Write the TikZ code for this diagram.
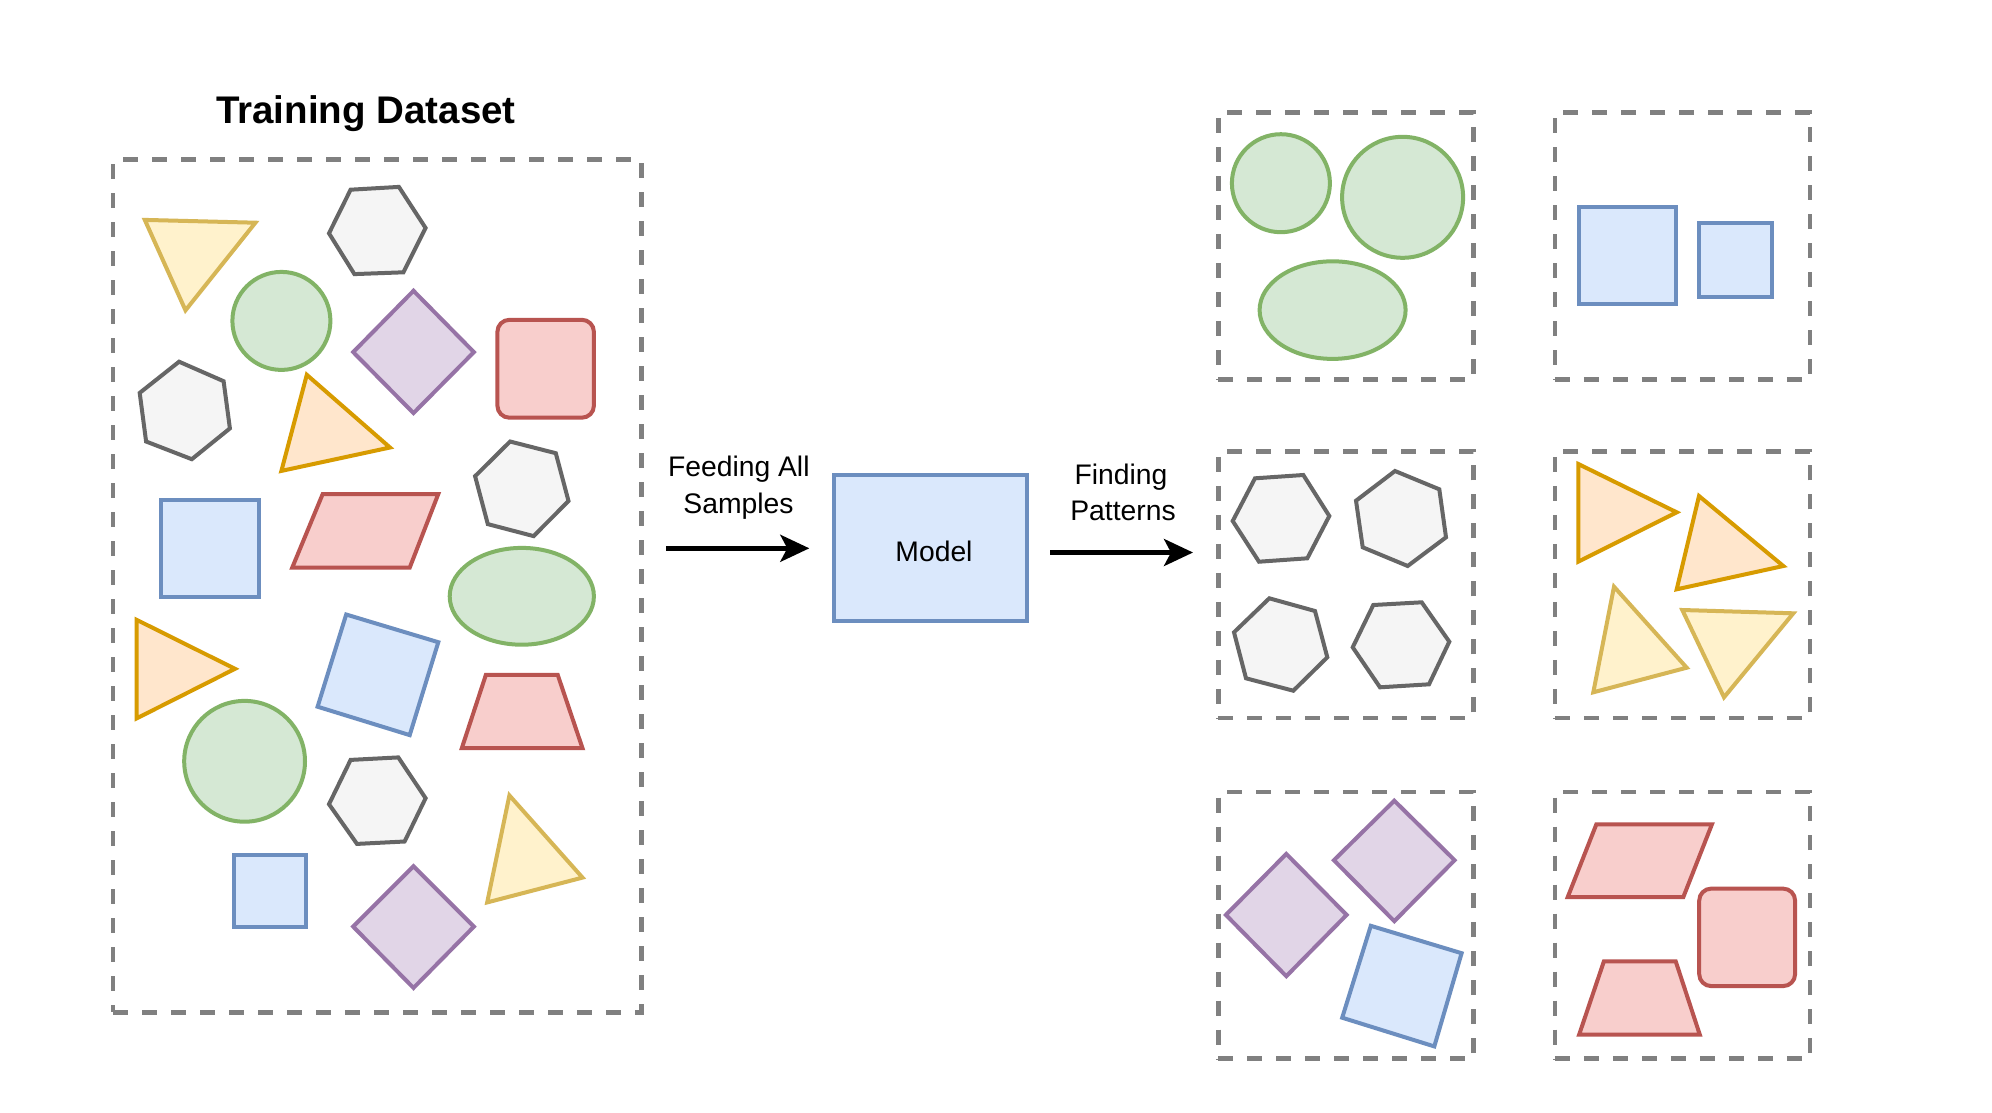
\documentclass[tikz,border=0pt]{standalone}
\usepackage{fontspec}
\setmainfont{Liberation Sans}
\usetikzlibrary{arrows.meta}
\definecolor{yelF}{HTML}{FFF2CC}\definecolor{yelD}{HTML}{D6B656}
\definecolor{orgF}{HTML}{FFE6CC}\definecolor{orgD}{HTML}{D79B00}
\definecolor{grnF}{HTML}{D5E8D4}\definecolor{grnD}{HTML}{82B366}
\definecolor{gryF}{HTML}{F5F5F5}\definecolor{gryD}{HTML}{666666}
\definecolor{purF}{HTML}{E1D5E7}\definecolor{purD}{HTML}{9673A6}
\definecolor{redF}{HTML}{F8CECC}\definecolor{redD}{HTML}{B85450}
\definecolor{bluF}{HTML}{DAE8FC}\definecolor{bluD}{HTML}{6C8EBF}
\definecolor{dashgray}{HTML}{808080}
\tikzset{
  shp/.style={line width=4pt},
  yel/.style={shp, fill=yelF, draw=yelD},
  org/.style={shp, fill=orgF, draw=orgD},
  grn/.style={shp, fill=grnF, draw=grnD},
  gry/.style={shp, fill=gryF, draw=gryD},
  pur/.style={shp, fill=purF, draw=purD},
  red/.style={shp, fill=redF, draw=redD},
  blu/.style={shp, fill=bluF, draw=bluD},
  redround/.style={red, rounded corners=12pt},
  dbox/.style={draw=dashgray, line width=4.5pt, dash pattern=on 15pt off 14pt,
    inner sep=0pt, outer sep=0pt},
  gbox/.style={dbox, minimum width=255.3pt, minimum height=266.8pt},
  lbl/.style={font=\fontsize{28.3}{34}\selectfont, inner sep=0pt},
  ttl/.style={font=\bfseries\fontsize{38.5}{46}\selectfont, inner sep=0pt},
  flow/.style={line width=4.5pt, -{Stealth[length=29pt,width=27pt,inset=7pt]}},
  modelbox/.style={draw=bluD, fill=bluF, line width=4pt, minimum width=193pt,
    minimum height=145.7pt, inner sep=0pt},
}
\begin{document}
\begin{tikzpicture}[x=1pt,y=-1pt]
\useasboundingbox[fill=white] (0,0) rectangle (1992,1112);

% ---------- Training dataset ----------
\node[ttl, anchor=base] (title) at (365.9,123.3) {Training Dataset};
\node[dbox, minimum width=528.4pt, minimum height=852.8pt] (dataset) at (377.3,586) {};

\filldraw[yel] (144.8,219.9) -- (255.4,222.7) -- (185.5,310.3) -- cycle;
\filldraw[gry] (350.6,189.7) -- (398.9,186.9) -- (425.6,228) -- (403.4,272.3) -- (354.4,274.1) -- (329,233.3) -- cycle;
\filldraw[grn] (281.4,320.9) ellipse [x radius=49, y radius=49];
\filldraw[pur] (413.5,290.8) -- (473.9,352.1) -- (413.5,413.1) -- (353.2,352.1) -- cycle;
\filldraw[redround] (497.4,319.8) rectangle (593.9,417.7);
\filldraw[gry] (179.1,361.7) -- (223.6,381.2) -- (229.9,428.4) -- (191.8,459.2) -- (146.1,441.5) -- (139.7,392.9) -- cycle;
\filldraw[org] (306.8,374.8) -- (390,447.5) -- (281.4,470.9) -- cycle;
\filldraw[gry] (510.1,441.5) -- (555.8,453.2) -- (568.5,501) -- (533.6,536.1) -- (487.8,524.1) -- (475.1,476.2) -- cycle;
\filldraw[blu] (161.3,500) rectangle (258.5,596.8);
\filldraw[red] (322.7,494) -- (438.3,494) -- (409.7,567.7) -- (292.2,567.7) -- cycle;
\filldraw[grn] (521.8,596.3) ellipse [x radius=72.1, y radius=48.4];
\filldraw[org] (136.6,619.8) -- (235,668.8) -- (136.6,718.4) -- cycle;
\filldraw[blu] (346.2,614.5) -- (438.3,642.2) -- (409.7,735.1) -- (317.6,706.7) -- cycle;
\filldraw[red] (485.9,674.8) -- (557.7,674.8) -- (582.5,748.2) -- (461.8,748.2) -- cycle;
\filldraw[grn] (244.6,761.3) ellipse [x radius=60.4, y radius=60.4];
\filldraw[gry] (350.6,759.9) -- (398.3,757.4) -- (425.6,798.2) -- (404.6,841.5) -- (357,843.9) -- (329,804.2) -- cycle;
\filldraw[yel] (509.4,795.4) -- (582.5,877.6) -- (487.2,902.4) -- cycle;
\filldraw[blu] (233.8,854.6) rectangle (306.2,927.3);
\filldraw[pur] (413.5,866.3) -- (473.9,926.6) -- (413.5,987.9) -- (353.2,926.6) -- cycle;

% ---------- Model and arrows ----------
\node[modelbox] (model) at (930,548) {};
\node[lbl] (modeltxt) at (934,551) {Model};

\node[lbl, anchor=base] (feed1) at (738.8,476.5) {Feeding All};
\node[lbl, anchor=base] (feed2) at (738.5,513) {Samples};
\node[lbl, anchor=base] (find1) at (1121,484) {Finding};
\node[lbl, anchor=base] (find2) at (1123,520.5) {Patterns};

\coordinate (a1s) at (666,548.3);
\coordinate (a1e) at (809.3,548.3);
\coordinate (a2s) at (1050,552.5);
\coordinate (a2e) at (1193,552.5);
\draw[flow] (a1s) -- (a1e);
\draw[flow] (a2s) -- (a2e);

% ---------- Groups ----------
\node[gbox] (g11) at (1345.9,246.1) {};
\node[gbox] (g12) at (1682.4,246.1) {};
\node[gbox] (g21) at (1345.9,584.7) {};
\node[gbox] (g22) at (1682.4,584.7) {};
\node[gbox] (g31) at (1345.9,925.3) {};
\node[gbox] (g32) at (1682.4,925.3) {};

% row 1, circles
\filldraw[grn] (1280.9,183.2) ellipse [x radius=49, y radius=49];
\filldraw[grn] (1402.6,197.3) ellipse [x radius=60.5, y radius=60.5];
\filldraw[grn] (1332.6,310.1) ellipse [x radius=73, y radius=48.8];
% row 1, squares
\filldraw[blu] (1578.5,206.7) rectangle (1675.7,304.3);
\filldraw[blu] (1699.2,223.4) rectangle (1772.2,297.2);

% row 2, hexagons
\filldraw[gry] (1255,478.3) -- (1303.3,475) -- (1329.3,516) -- (1307.3,558.3) -- (1259,561.7) -- (1232.7,521) -- cycle;
\filldraw[gry] (1395,471) -- (1439.3,489.3) -- (1446,537.3) -- (1407.7,566) -- (1362.7,547.3) -- (1356,500.7) -- cycle;
\filldraw[gry] (1269.3,598.3) -- (1315,611) -- (1327.3,657.3) -- (1293.3,690.7) -- (1246,678.3) -- (1234,632.3) -- cycle;
\filldraw[gry] (1373.3,605) -- (1421.7,602.3) -- (1449.3,641.7) -- (1429,684.3) -- (1380,687.3) -- (1352.7,647.3) -- cycle;
% row 2, triangles
\filldraw[org] (1578.3,464) -- (1676.7,512.3) -- (1578.3,561.7) -- cycle;
\filldraw[org] (1699,496) -- (1783.3,566) -- (1676.7,589.3) -- cycle;
\filldraw[yel] (1614,586.7) -- (1686.7,667.7) -- (1593.3,692.3) -- cycle;
\filldraw[yel] (1682.3,610) -- (1793.3,613.3) -- (1724,697.3) -- cycle;

% row 3, diamonds and square
\filldraw[pur] (1286.3,853.9) -- (1346.6,914.9) -- (1286.3,976.2) -- (1225.9,914.9) -- cycle;
\filldraw[pur] (1394.3,800.7) -- (1454.6,860.2) -- (1394.3,921.2) -- (1333.9,860.2) -- cycle;
\filldraw[blu] (1370.8,925.8) -- (1461.6,953.2) -- (1434.3,1046.4) -- (1342.2,1017.7) -- cycle;
% row 3, red shapes
\filldraw[red] (1596.3,824.4) -- (1711.9,824.4) -- (1683.3,897.1) -- (1567.7,897.1) -- cycle;
\filldraw[redround] (1699.2,888.6) rectangle (1795.1,986.1);
\filldraw[red] (1603.9,961.3) -- (1675.7,961.3) -- (1699.8,1034.7) -- (1579.1,1034.7) -- cycle;
\end{tikzpicture}
\end{document}
